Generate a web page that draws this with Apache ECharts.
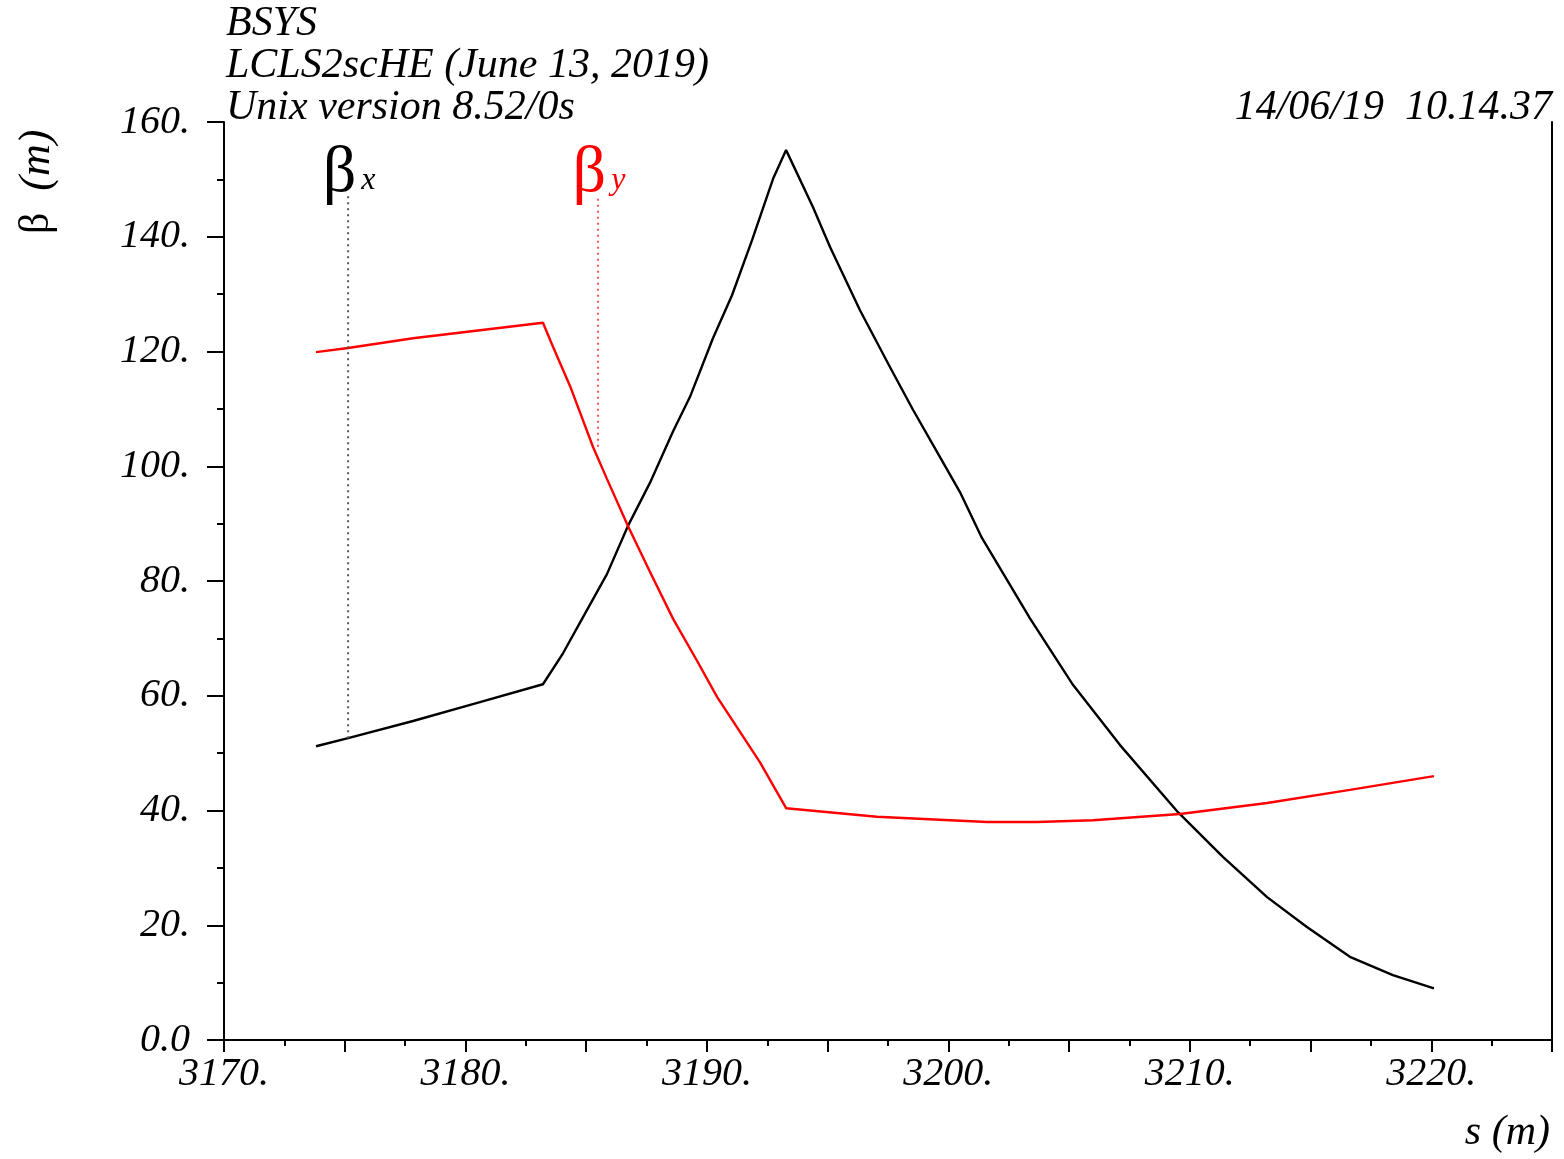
<!DOCTYPE html>
<html>
<head>
<meta charset="utf-8">
<script src="https://cdn.jsdelivr.net/npm/echarts@6/dist/echarts.min.js"></script>
<style>
  html, body { margin: 0; padding: 0; background: #fff; }
  #main { width: 1564px; height: 1159px; }
</style>
</head>
<body>
<div id="main"></div>
<script>
// s positions (m) and beta functions (m)
var sX = [3173.81, 3175.14, 3177.83, 3180.60, 3183.21, 3184.04, 3184.83, 3185.86, 3186.73,
  3187.64, 3188.60, 3189.30, 3190.25, 3191.04, 3191.87, 3192.74, 3193.28, 3194.39, 3195.10,
  3196.34, 3197.58, 3198.54, 3199.53, 3200.48, 3201.39, 3203.38, 3205.16, 3207.11, 3209.51,
  3211.37, 3213.20, 3214.85, 3216.63, 3218.41, 3220.11]
var betaX = [51.2, 52.6, 55.6, 58.9, 62.0, 67.4, 73.4, 81.2, 89.6,
  97.1, 106.1, 112.1, 122.3, 129.8, 139.4, 150.1, 155.1, 145.2, 138.2,
  127.2, 117.3, 109.8, 102.5, 95.5, 87.5, 73.5, 61.9, 51.4, 39.7,
  31.9, 24.9, 19.7, 14.5, 11.3, 9.0]

var sY = [3173.81, 3175.14, 3177.83, 3180.60, 3183.21, 3183.63, 3184.33, 3185.28, 3185.86,
  3186.73, 3187.64, 3188.60, 3189.59, 3190.42, 3192.20, 3193.28, 3197.04, 3201.60, 3203.67,
  3205.99, 3209.59, 3213.20, 3216.63, 3220.11]
var betaY = [119.9, 120.6, 122.3, 123.7, 125.0, 120.8, 114.0, 103.4, 97.8,
  89.6, 81.6, 73.4, 66.1, 59.8, 48.4, 40.4, 38.9, 38.0, 38.0,
  38.3, 39.4, 41.3, 43.6, 46.0]

// label marker lines (s, bottom on curve, top under label)
var markX = [[3175.14, 52.6], [3175.14, 147.3]]
var markY = [[3185.49, 103.4], [3185.49, 147.3]]

var xTicks = { min: 3170, max: 3225, interval: 5 }
var yTicks = { min: 0, max: 160, interval: 20 }

var serif = 'Liberation Serif'
var tickFont = { fontFamily: serif, fontStyle: 'italic', fontSize: 40, color: '#000' }
var headFont = 'italic 42px "Liberation Serif"'

function pairs(xs, ys) {
  return xs.map(function (x, i) { return [x, ys[i]] })
}

function labelRich(color) {
  return {
    b: { fontFamily: serif, fontSize: 66, lineHeight: 66, color: color, verticalAlign: 'bottom' },
    s: { fontFamily: serif, fontStyle: 'italic', fontSize: 32, lineHeight: 40, color: color,
      verticalAlign: 'bottom', padding: [0, 0, 10, 5] }
  }
}

var myChart = echarts.init(document.getElementById('main'))
var option = {
  animation: false,
  backgroundColor: '#fff',
  grid: { left: 224, right: 12, top: 122, bottom: 119 },
  xAxis: [
    {
      type: 'value', position: 'bottom',
      min: xTicks.min, max: xTicks.max, interval: xTicks.interval,
      axisLine: { lineStyle: { color: '#000', width: 2 } },
      axisTick: { length: 12, lineStyle: { color: '#000', width: 2 } },
      minorTick: { show: true, splitNumber: 2, length: 6, lineStyle: { color: '#000', width: 2 } },
      splitLine: { show: false },
      axisLabel: Object.assign({
        margin: 14,
        formatter: function (v) { return Math.round(v) % 10 === 0 ? v + '.' : '' }
      }, tickFont)
    },
    {
      type: 'value', position: 'top',
      min: xTicks.min, max: xTicks.max, interval: xTicks.interval,
      axisLine: { lineStyle: { color: '#000', width: 2 } },
      axisTick: { inside: true, length: 12, lineStyle: { color: '#000', width: 2 } },
      minorTick: { show: true, splitNumber: 2, length: 6, lineStyle: { color: '#000', width: 2 } },
      splitLine: { show: false },
      axisLabel: { show: false }
    }
  ],
  yAxis: [
    {
      type: 'value', position: 'left',
      min: yTicks.min, max: yTicks.max, interval: yTicks.interval,
      axisLine: { show: true, lineStyle: { color: '#000', width: 2 } },
      axisTick: { show: true, length: 17, lineStyle: { color: '#000', width: 2 } },
      minorTick: { show: true, splitNumber: 2, length: 7, lineStyle: { color: '#000', width: 2 } },
      splitLine: { show: false },
      axisLabel: Object.assign({
        margin: 34,
        formatter: function (v) { return v === 0 ? '0.0' : v + '.' }
      }, tickFont)
    },
    {
      type: 'value', position: 'right',
      min: yTicks.min, max: yTicks.max,
      axisLine: { show: true, lineStyle: { color: '#000', width: 2 } },
      axisTick: { show: false },
      splitLine: { show: false },
      axisLabel: { show: false }
    }
  ],
  series: [
    {
      name: 'betax', type: 'line', data: pairs(sX, betaX),
      symbol: 'none', lineStyle: { color: '#000', width: 2.4 }, z: 3
    },
    {
      name: 'betay', type: 'line', data: pairs(sY, betaY),
      symbol: 'none', lineStyle: { color: '#ff0000', width: 2.4 }, z: 3
    },
    {
      name: 'markx', type: 'line', data: markX, symbol: 'none',
      lineStyle: { color: '#555', width: 2, type: [2, 4] }
    },
    {
      name: 'marky', type: 'line', data: markY, symbol: 'none',
      lineStyle: { color: '#ff5555', width: 2, type: [2, 4] }
    },
    {
      name: 'labels', type: 'scatter', symbolSize: 0,
      itemStyle: { color: '#fff', opacity: 1 },
      data: [
        { value: markX[1], label: { formatter: '{b|β}{s|x}', rich: labelRich('#000') } },
        { value: markY[1], label: { formatter: '{b|β}{s|y}', rich: labelRich('#ff0000') } }
      ],
      label: { show: true, position: 'top', distance: -12, offset: [1, 0] },
      z: 4
    }
  ],
  graphic: [
    { type: 'text', left: 226, top: 3, style: { text: 'BSYS', font: headFont, fill: '#000' } },
    { type: 'text', left: 226, top: 45, style: { text: 'LCLS2scHE (June 13, 2019)', font: headFont, fill: '#000' } },
    { type: 'text', left: 226, top: 87, style: { text: 'Unix version 8.52/0s', font: headFont, fill: '#000' } },
    { type: 'text', right: 12, top: 87, style: { text: '14/06/19  10.14.37', font: headFont, fill: '#000' } },
    { type: 'text', right: 14, top: 1112, style: { text: 's (m)', font: headFont, fill: '#000' } },
    {
      type: 'text', x: 15, y: 234, rotation: Math.PI / 2,
      style: {
        text: '{a|β}{g|}{b|(m)}',
        rich: {
          a: { fontFamily: serif, fontSize: 42, fill: '#000' },
          g: { width: 22 },
          b: { fontFamily: serif, fontStyle: 'italic', fontSize: 44, fill: '#000' }
        }
      }
    }
  ]
}
myChart.setOption(option)
</script>
</body>
</html>
